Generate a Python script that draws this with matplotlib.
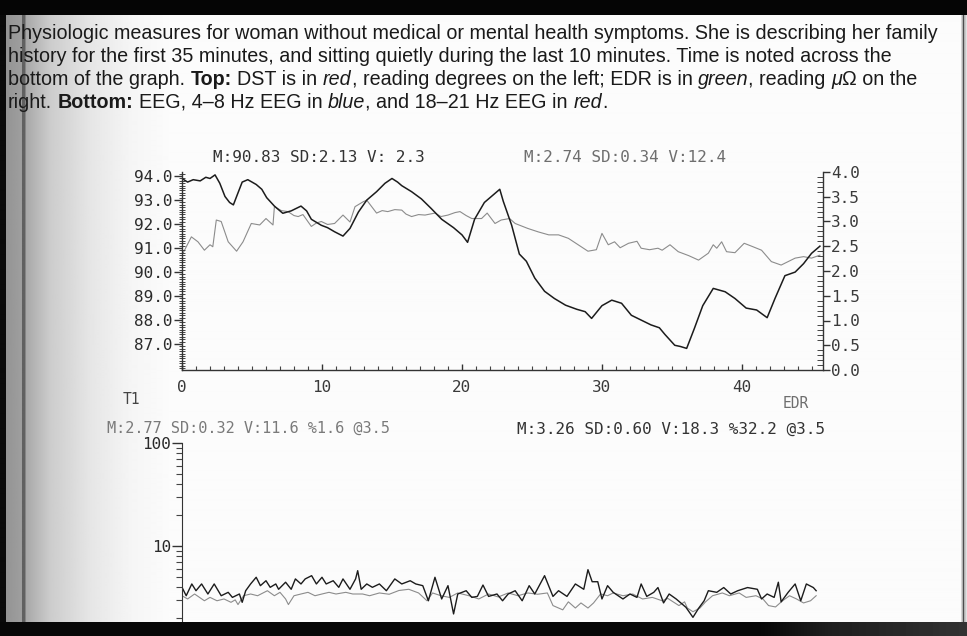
import numpy as np
import matplotlib
matplotlib.use('Agg')
import matplotlib.pyplot as plt
from matplotlib.ticker import MultipleLocator, FixedLocator, FormatStrFormatter, NullFormatter
from matplotlib import font_manager

# ---- data ----
# top panel: DST (dark, left scale) and EDR (gray, right scale), minutes
dst_t = [0, 0.4, 0.8, 1.3, 1.7, 2.0, 2.36, 2.7, 3.07, 3.4, 3.67, 4.0, 4.3, 4.7, 5.3, 5.7,
         6.05, 6.6, 7.2, 7.8, 8.5, 8.9, 9.24, 9.95, 10.4, 10.9, 11.5, 12.0, 12.6, 13.2,
         13.9, 14.5, 15.0, 15.4, 15.7, 16.4, 17.1, 17.8, 18.55, 19.4, 20.0, 20.4, 20.9,
         21.6, 22.2, 22.7, 22.95, 23.55, 24.1, 24.6, 25.2, 25.9, 26.6, 27.4, 28.2, 28.8,
         29.26, 30.0, 30.7, 31.4, 32.1, 32.8, 33.5, 34.1, 34.5, 35.2, 35.6, 36.05, 36.6,
         37.2, 37.95, 38.8, 39.5, 40.3, 41.05, 41.8, 42.36, 43.07, 43.8, 44.4, 44.97, 45.57]
dst_v = [93.9, 93.75, 93.85, 93.8, 93.95, 93.9, 94.05, 93.7, 93.15, 92.9, 92.8, 93.3, 93.75,
         93.85, 93.65, 93.45, 93.1, 92.75, 92.45, 92.55, 92.75, 92.55, 92.2, 91.95, 91.85,
         91.68, 91.5, 91.82, 92.5, 93.0, 93.35, 93.7, 93.9, 93.75, 93.6, 93.35, 93.05, 92.65,
         92.2, 91.85, 91.55, 91.24, 92.2, 92.9, 93.2, 93.45, 92.95, 91.95, 90.75, 90.45,
         89.75, 89.2, 88.9, 88.62, 88.45, 88.35, 88.07, 88.6, 88.83, 88.7, 88.2, 88.0, 87.8,
         87.68, 87.4, 86.95, 86.9, 86.82, 87.65, 88.6, 89.32, 89.18, 88.9, 88.5, 88.42, 88.1,
         88.9, 89.85, 90.0, 90.35, 90.78, 91.08]

edr_t = [0, 0.67, 1.14, 1.6, 2.0, 2.2, 2.45, 2.8, 3.3, 3.9, 4.36, 4.95, 5.55, 6.0, 6.5, 6.6,
         7.1, 7.57, 8.0, 8.3, 8.64, 9.24, 9.6, 9.95, 10.4, 10.9, 11.5, 12.0, 12.36, 12.95,
         13.2, 13.9, 14.3, 14.7, 15.2, 15.7, 16.0, 16.4, 16.9, 17.36, 18.07, 18.5, 19.0,
         19.5, 19.86, 20.3, 20.7, 21.4, 21.8, 22.36, 22.8, 23.4, 23.8, 24.7, 25.45, 26.2,
         26.9, 27.6, 28.3, 29.0, 29.6, 30.0, 30.45, 30.9, 31.3, 31.9, 32.5, 32.8, 33.4, 34.0,
         34.3, 34.86, 35.45, 36.2, 36.9, 37.6, 37.95, 38.2, 38.55, 38.9, 39.5, 40.16, 40.7,
         41.4, 42.1, 42.8, 43.3, 43.8, 44.4, 44.97, 45.57]
edr_v = [2.32, 2.69, 2.59, 2.42, 2.53, 2.49, 3.03, 3.0, 2.59, 2.40, 2.59, 2.96, 2.93, 3.06,
         2.93, 3.3, 3.22, 3.2, 3.12, 3.1, 3.14, 2.9, 2.97, 3.0, 2.94, 2.96, 3.13, 2.99, 3.3,
         3.4, 3.43, 3.17, 3.22, 3.2, 3.24, 3.23, 3.15, 3.1, 3.14, 3.13, 3.17, 3.1, 3.13, 3.18,
         3.2, 3.12, 3.06, 3.06, 3.17, 2.96, 3.03, 3.06, 2.96, 2.86, 2.79, 2.73, 2.73, 2.66,
         2.53, 2.40, 2.43, 2.76, 2.53, 2.59, 2.47, 2.56, 2.6, 2.46, 2.43, 2.46, 2.42, 2.53,
         2.39, 2.31, 2.22, 2.36, 2.53, 2.46, 2.59, 2.39, 2.37, 2.56, 2.5, 2.42, 2.19, 2.12,
         2.19, 2.26, 2.29, 2.26, 2.32]

# bottom panel: EEG bands (log scale)
hi_t = [0, 0.3, 0.7, 1.0, 1.4, 1.85, 2.3, 2.8, 3.3, 3.6, 4.1, 4.3, 4.55, 4.9, 5.3, 5.6, 6.0,
        6.3, 6.7, 6.9, 7.4, 7.8, 8.1, 8.5, 8.8, 9.26, 9.6, 10.0, 10.3, 10.8, 11.2, 11.5,
        12.0, 12.4, 12.55, 12.8, 13.2, 13.6, 14.1, 14.6, 15.2, 15.7, 16.3, 16.7, 17.2, 17.6,
        18.07, 18.55, 19.0, 19.4, 19.7, 20.3, 20.7, 21.1, 21.5, 21.9, 22.5, 22.9, 23.3,
        23.8, 24.3, 24.8, 25.2, 25.9, 26.5, 26.9, 27.5, 28.1, 28.7, 29.0, 29.3, 29.7, 30.0,
        30.4, 30.8, 31.5, 32.0, 32.5, 32.8, 33.2, 33.7, 34.0, 34.4, 34.8, 35.3, 36.0, 36.5,
        36.9, 37.3, 37.6, 38.2, 38.7, 39.2, 39.7, 40.4, 41.1, 41.4, 41.8, 42.3, 42.6, 42.8,
        43.3, 43.8, 44.2, 44.6, 45.1, 45.3]
hi_v = [3.97, 3.29, 4.28, 3.68, 4.28, 3.42, 4.28, 3.29, 3.55, 3.17, 3.42, 2.84, 3.68, 4.28,
        4.97, 4.12, 4.6, 3.97, 4.28, 3.8, 4.45, 3.8, 4.79, 4.28, 4.79, 5.15, 4.28, 4.97, 4.28,
        4.6, 3.97, 4.79, 3.8, 4.79, 5.76, 3.8, 4.28, 3.97, 4.28, 3.68, 4.79, 4.28, 4.6, 4.28,
        4.12, 2.94, 4.97, 3.06, 4.12, 2.19, 3.42, 3.68, 3.17, 3.24, 4.18, 3.24, 3.42, 2.94,
        3.42, 3.68, 2.94, 4.12, 3.42, 5.15, 3.24, 3.68, 3.24, 4.28, 3.8, 5.89, 4.5, 4.5, 3.06,
        4.12, 3.55, 3.06, 3.42, 3.17, 4.28, 3.24, 3.55, 3.95, 2.8, 3.42, 3.06, 2.54, 2.03,
        2.48, 2.94, 3.68, 3.55, 3.95, 3.42, 3.68, 3.95, 3.8, 3.06, 3.42, 3.17, 4.45, 2.87,
        3.55, 4.28, 2.94, 4.28, 3.95, 3.68]

lo_t = [0, 0.4, 0.9, 1.6, 2.0, 2.5, 3.0, 3.5, 3.8, 4.0, 4.4, 4.9, 5.4, 6.1, 6.6, 7.0, 7.4,
        7.6, 8.0, 8.5, 9.0, 9.5, 10.0, 10.5, 11.0, 11.7, 12.2, 12.9, 13.4, 14.1, 14.8, 15.5,
        16.2, 16.9, 17.5, 17.9, 18.5, 19.1, 19.7, 20.5, 21.2, 21.9, 22.6, 23.3, 24.0, 24.7,
        25.4, 26.1, 26.5, 27.2, 27.6, 28.1, 28.5, 29.0, 29.4, 29.9, 30.4, 30.8, 31.5, 32.2,
        32.9, 33.6, 34.3, 34.7, 35.5, 35.9, 36.1, 36.5, 37.0, 37.4, 37.9, 38.6, 39.1, 39.8,
        40.3, 41.0, 41.5, 41.9, 42.4, 42.9, 43.4, 43.9, 44.4, 44.9, 45.3]
lo_v = [3.29, 3.06, 3.42, 2.94, 3.17, 2.94, 3.06, 2.84, 3.0, 2.7, 3.29, 3.42, 3.29, 3.68,
        3.29, 3.55, 3.06, 2.7, 3.29, 3.42, 3.55, 3.29, 3.42, 3.55, 3.42, 3.55, 3.42, 3.42,
        3.29, 3.5, 3.4, 3.7, 3.8, 3.5, 2.94, 3.5, 3.29, 3.17, 3.5, 3.29, 3.06, 3.42, 3.2, 3.5,
        3.29, 3.5, 3.4, 3.5, 2.64, 2.4, 2.87, 2.5, 2.8, 2.5, 2.8, 3.42, 3.29, 3.5, 3.29, 3.42,
        3.06, 3.17, 2.94, 3.1, 2.64, 2.87, 2.5, 2.3, 2.5, 2.87, 3.29, 3.5, 3.29, 3.5, 3.17,
        3.29, 3.06, 2.64, 2.56, 2.94, 3.29, 3.06, 2.8, 2.94, 3.29]

dst_ticks = [87, 88, 89, 90, 91, 92, 93, 94]
eeg_ticks = [10, 100]

caption = [
    [("Physiologic measures for woman without medical or mental health symptoms. She is describing her family", 'normal', 'normal')],
    [("history for the first 35 minutes, and sitting quietly during the last 10 minutes. Time is noted across the", 'normal', 'normal')],
    [("bottom of the graph. ", 'normal', 'normal'), ("Top: ", 'bold', 'normal'),
     ("DST is in ", 'normal', 'normal'), ("red", 'normal', 'italic'),
     (", reading degrees on the left; EDR is in ", 'normal', 'normal'), ("green", 'normal', 'italic'),
     (", reading ", 'normal', 'normal'), ("\u03bc", 'normal', 'italic'),
     ("\u03a9 on the", 'normal', 'normal')],
    [("right. ", 'normal', 'normal'), ("Bottom: ", 'bold', 'normal'),
     ("EEG, 4\u20138 Hz EEG in ", 'normal', 'normal'), ("blue", 'normal', 'italic'),
     (", and 18\u201321 Hz EEG in ", 'normal', 'normal'), ("red", 'normal', 'italic'),
     (".", 'normal', 'normal')],
]

W, H = 967, 636
fig = plt.figure(figsize=(W / 100, H / 100), dpi=100)
fig.patch.set_facecolor('white')


def fx(px):
    return px / W


def fy(py):
    return 1 - py / H


# page background: shadow of the book gutter on the left, page edge on the right
bg = fig.add_axes([0, 0, 1, 1], zorder=-10)
bg.axis('off')
cols = np.arange(W)
shade = np.interp(cols, [0, 5, 6, 21, 22, 24, 26, 50, 90, 130, 170, 960, 962, 963, 964, 967],
                  [0.04, 0.04, 0.58, 0.62, 0.38, 0.38, 0.66, 0.8, 0.9, 0.96, 0.985, 0.985,
                   0.7, 0.3, 0.7, 0.97])
bg.imshow(np.tile(shade, (2, 1)), cmap='gray', vmin=0, vmax=1, aspect='auto',
          extent=[0, 1, 0, 1], interpolation='bilinear')
bg.set_xlim(0, 1)
bg.set_ylim(0, 1)

mono = 'DejaVu Sans Mono'
tick_fs = 11.5
ink = '#2a2a2a'

# ---- top panel ----
ax = fig.add_axes([fx(182), fy(370), fx(823) - fx(182), (370 - 172) / H])
ax2 = ax.twinx()
ax.set_zorder(ax2.get_zorder() + 1)
ax.patch.set_visible(False)
ax2.patch.set_visible(False)

ax2.plot(edr_t, edr_v, color='#8c8c8c', lw=0.8)
ax.plot(dst_t, dst_v, color='#1c1c1c', lw=1.1)

ax.set_xlim(0, 45.79)
ax.set_ylim(85.92, 94.17)
ax2.set_ylim(0, 4)

for s in ['top', 'right']:
    ax.spines[s].set_visible(False)
for s in ['top', 'left', 'bottom']:
    ax2.spines[s].set_visible(False)
for a in (ax, ax2):
    for sp in a.spines.values():
        sp.set_color('#333333')
        sp.set_linewidth(1.0)

ax.xaxis.set_major_locator(MultipleLocator(10))
ax.xaxis.set_minor_locator(MultipleLocator(1))
ax.yaxis.set_major_locator(FixedLocator(dst_ticks))
ax.yaxis.set_major_formatter(FormatStrFormatter('%.1f'))
ax.yaxis.set_minor_locator(MultipleLocator(0.1))
ax.tick_params(axis='x', which='major', direction='in', length=4, width=1, color='#333333',
               pad=7, labelsize=tick_fs, labelcolor='#3a3a3a')
ax.tick_params(axis='x', which='minor', direction='in', length=3, width=0.8, color='#444444')
ax.tick_params(axis='y', which='major', direction='out', length=6, width=1, color='#333333',
               pad=1, labelsize=tick_fs, labelcolor=ink)
ax.tick_params(axis='y', which='minor', direction='inout', length=4, width=0.7, color='#444444')

ax2.yaxis.set_major_locator(MultipleLocator(0.5))
ax2.yaxis.set_major_formatter(FormatStrFormatter('%.1f'))
ax2.yaxis.set_minor_locator(MultipleLocator(0.1))
ax2.tick_params(axis='y', which='major', direction='out', length=5, width=1, color='#333333',
                pad=1, labelsize=tick_fs, labelcolor='#3a3a3a')
ax2.tick_params(axis='y', which='minor', direction='in', length=4, width=0.7, color='#444444')

for a in (ax, ax2):
    for lab in a.get_xticklabels() + a.get_yticklabels():
        lab.set_family(mono)

# ---- bottom panel ----
ax3 = fig.add_axes([fx(182), fy(649), fx(823) - fx(182), (649 - 443) / H])
ax3.patch.set_visible(False)
ax3.set_yscale('log')
ax3.plot(lo_t, lo_v, color='#8c8c8c', lw=0.8)
ax3.plot(hi_t, hi_v, color='#1c1c1c', lw=1.0)
ax3.set_xlim(0, 45.79)
ax3.set_ylim(1, 100)
for s in ['top', 'right', 'bottom']:
    ax3.spines[s].set_visible(False)
ax3.spines['left'].set_color('#333333')
ax3.set_xticks([])
ax3.yaxis.set_major_locator(FixedLocator(eeg_ticks))
ax3.yaxis.set_major_formatter(FormatStrFormatter('%d'))
ax3.yaxis.set_minor_locator(FixedLocator([k * 10 ** e for e in (0, 1) for k in range(2, 10)]))
ax3.yaxis.set_minor_formatter(NullFormatter())
ax3.tick_params(axis='y', which='major', direction='out', length=7, width=1, color='#333333',
                pad=1, labelsize=tick_fs, labelcolor=ink)
ax3.tick_params(axis='y', which='minor', direction='out', length=4, width=0.8, color='#444444')
for lab in ax3.get_yticklabels():
    lab.set_family(mono)

# ---- chart annotations ----
fig.text(fx(319), fy(157), "M:90.83 SD:2.13 V: 2.3", family=mono, fontsize=tick_fs,
         color='#333333', ha='center', va='center')
fig.text(fx(625), fy(157), "M:2.74 SD:0.34 V:12.4", family=mono, fontsize=tick_fs,
         color='#6e6e6e', ha='center', va='center')
fig.text(fx(131), fy(400), "T1", family=mono, fontsize=tick_fs - 1, color='#444444',
         ha='center', va='center')
fig.text(fx(796), fy(403), "EDR", family=mono, fontsize=tick_fs - 1, color='#6e6e6e',
         ha='center', va='center')
fig.text(fx(248), fy(428), "M:2.77 SD:0.32 V:11.6 %1.6 @3.5", family=mono, fontsize=tick_fs - 0.5,
         color='#7a7a7a', ha='center', va='center')
fig.text(fx(671), fy(429), "M:3.26 SD:0.60 V:18.3 %32.2 @3.5", family=mono, fontsize=tick_fs,
         color='#333333', ha='center', va='center')

# ---- caption above the chart ----
names = {f.name for f in font_manager.fontManager.ttflist}
cap_family = 'Liberation Sans Narrow' if 'Liberation Sans Narrow' in names else 'Liberation Sans'
renderer = fig.canvas.get_renderer()


def text_width(s, size, weight, style):
    t = fig.text(0, 0, s, family=cap_family, fontsize=size, weight=weight, style=style)
    w = t.get_window_extent(renderer).width
    t.remove()
    return w


def run_width(s, size, weight, style):
    core = s.rstrip(' ')
    n_sp = len(s) - len(core)
    w = text_width(core, size, weight, style) if core else 0
    if n_sp:
        sp = text_width('a a', size, weight, style) - text_width('aa', size, weight, style)
        w += n_sp * sp
    return w


cap_fs = 13.0
line1 = caption[0][0]
cap_fs *= 927 / run_width(line1[0], cap_fs, line1[1], line1[2])

baselines = [39, 62, 85, 108]
for runs, base in zip(caption, baselines):
    x = 8
    for s, weight, style in runs:
        fig.text(fx(x), fy(base), s.rstrip(' '), family=cap_family, fontsize=cap_fs,
                 weight=weight, style=style, color='#1a1a1a', va='baseline', ha='left')
        x += run_width(s, cap_fs, weight, style)

# ---- scan borders: black bands top and bottom ----
top_band = fig.add_axes([0, fy(15), 1, 15 / H], zorder=20)
top_band.axis('off')
top_band.add_patch(plt.Rectangle((0, 0), 1, 1, color='#050505', transform=top_band.transAxes))

bot_band = fig.add_axes([0, 0, 1, (H - 622) / H], zorder=20)
bot_band.axis('off')
band_shade = np.interp(cols, [0, 760, 830, 967], [0.03, 0.03, 0.12, 0.2])
bot_band.imshow(np.tile(band_shade, (2, 1)), cmap='gray', vmin=0, vmax=1, aspect='auto',
                extent=[0, 1, 0, 1])
bot_band.set_xlim(0, 1)
bot_band.set_ylim(0, 1)

fig.savefig('out.png', dpi=100)
